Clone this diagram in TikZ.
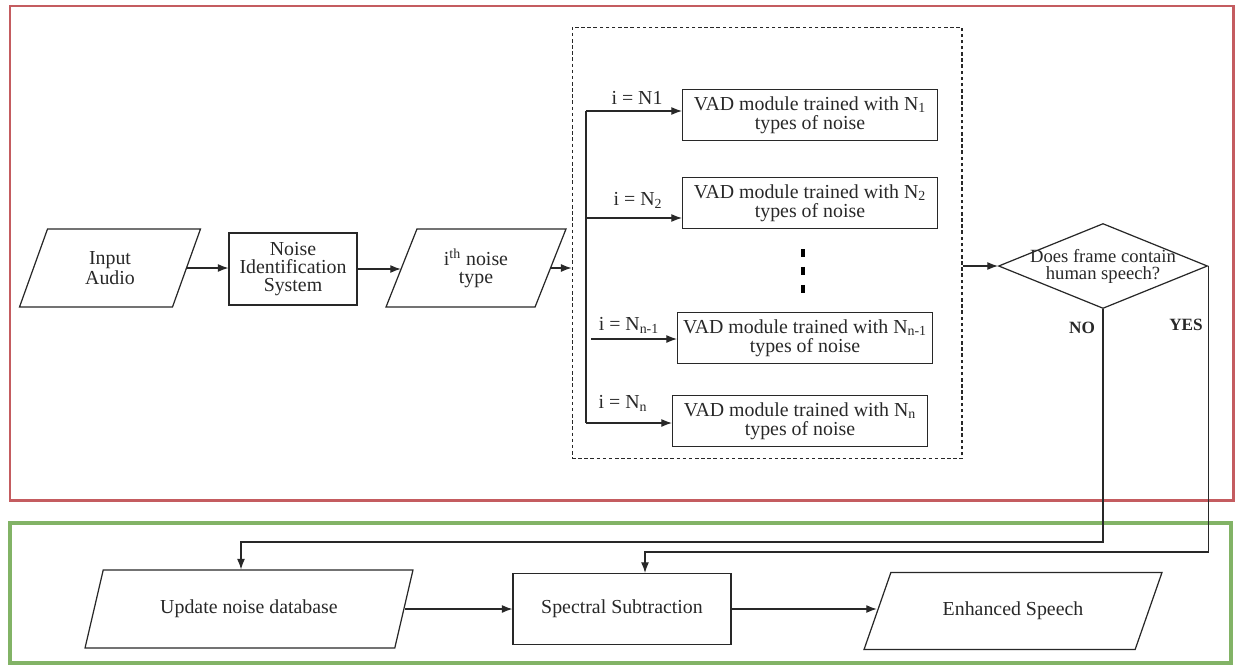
\documentclass[tikz,border=0pt]{standalone}
\usepackage{fontspec}
\setmainfont{Liberation Serif}
\usetikzlibrary{shapes.geometric, arrows.meta, positioning, calc}
\definecolor{framered}{RGB}{196, 92, 96}
\definecolor{framegreen}{RGB}{130, 179, 102}
\definecolor{inkgray}{RGB}{40, 40, 40}
\newcommand{\boxfont}{\fontsize{11.3}{10.2}\selectfont}
\newcommand{\vadfont}{\fontsize{11.3}{11}\selectfont}
\newcommand{\askfont}{\fontsize{10.6}{9.6}\selectfont}
\newcommand{\tagfont}{\fontsize{9.8}{10}\selectfont\bfseries}

\begin{document}
\begin{tikzpicture}[
  x=0.02cm, y=-0.02cm,
  every node/.style={text=inkgray, font=\boxfont},
  pbox/.style={draw=inkgray, line width=0.7pt, rectangle, align=center, inner sep=2pt},
  iobox/.style={draw=inkgray, line width=0.7pt, trapezium, trapezium stretches body, align=center, inner sep=2pt, minimum height=1.56cm},
  vbox/.style={pbox, font=\vadfont, minimum width=5.1cm, minimum height=1.02cm},
  dbox/.style={diamond, draw=inkgray, line width=0.7pt, minimum width=4.18cm, minimum height=1.7cm, inner sep=0pt},
  arr/.style={-{Latex[length=6pt, width=4.5pt]}, line width=0.6pt, draw=inkgray},
  vdots/.style={line width=2pt, draw=black, dash pattern=on 4.5pt off 5.7pt}
]
  \useasboundingbox (0,0) rectangle (1236,666);

  % the two stages
  \draw[framered, line width=1.7pt] (10,6) rectangle (1233,500);
  \draw[framegreen, line width=1.9pt] (10,523) rectangle (1231,663);

  % noise identification
  \node[iobox, trapezium left angle=55, trapezium right angle=125, minimum width=3.62cm] (audio) at (110,268) {Input\\Audio};
  \node[pbox, minimum width=2.56cm, minimum height=1.44cm] (nis) at (293,269) {Noise\\Identification\\System};
  \node[iobox, trapezium left angle=56, trapezium right angle=124, minimum width=3.6cm] (ntype) at (476,268) {i\textsuperscript{th} noise\\type};

  % bank of VAD modules
  \node[draw=inkgray, dash pattern=on 2pt off 1.5pt, line width=0.6pt, minimum width=7.8cm, minimum height=8.64cm, inner sep=0pt] (vadset) at (767,243) {};
  \node[vbox] (vad1) at (810,115) {VAD module trained with N\textsubscript{1}\\types of noise};
  \node[vbox] (vad2) at (810,203) {VAD module trained with N\textsubscript{2}\\types of noise};
  \node[vbox] (vad3) at (805,338) {VAD module trained with N\textsubscript{n-1}\\types of noise};
  \node[vbox] (vad4) at (800,421) {VAD module trained with N\textsubscript{n}\\types of noise};

  \node (sel1) at (637,98) {i = N1};
  \node (sel2) at (638,200) {i = N\textsubscript{2}};
  \node (sel3) at (629,325) {i = N\textsubscript{n-1}};
  \node (sel4) at (623,403) {i = N\textsubscript{n}};

  \draw[vdots] (803,249) -- (803,295);

  % decision
  \node[dbox, label={[align=center, font=\askfont]center:{Does frame contain\\human speech?}}] (ask) at (1103,266) {};
  \node[font=\tagfont] (no) at (1082,328) {NO};
  \node[font=\tagfont] (yes) at (1186,325) {YES};

  % enhancement
  \node[iobox, trapezium left angle=54, trapezium right angle=126, minimum width=6.56cm] (upd) at (249,609) {Update noise database};
  \node[pbox, minimum width=4.36cm, minimum height=1.42cm] (spec) at (622,609) {Spectral Subtraction};
  \node[iobox, trapezium left angle=43, trapezium right angle=137, minimum width=5.96cm, minimum height=1.54cm] (enh) at (1013,611) {Enhanced Speech};

  % connectors
  \draw[arr] (audio.east) -- (audio.east -| nis.west);
  \draw[arr] (nis.east) -- (nis.east -| ntype.west);
  \draw[arr] (ntype.east) -- (ntype.east -| vadset.west);

  \coordinate (b1) at (586,111);
  \coordinate (b2) at (586,218);
  \coordinate (b3) at (591,339);
  \coordinate (b4) at (586,423);
  \draw[line width=0.6pt, draw=inkgray] (b1) -- (b4);
  \foreach \k in {1,...,4}
    \draw[arr] (b\k) -- (b\k -| vad\k.west);

  \draw[arr] (vadset.east |- ask.west) -- (ask.west);

  \coordinate (nobend) at (241,542);
  \coordinate (yesbend) at (645,552);
  \draw[arr] (ask.south) |- (nobend) -- (nobend |- upd.north);
  \draw[arr] (ask.east) |- (yesbend) -- (yesbend |- spec.north);
  \draw[arr] (upd.east) -- (upd.east -| spec.west);
  \draw[arr] (spec.east) -- (spec.east -| enh.west);
\end{tikzpicture}
\end{document}
